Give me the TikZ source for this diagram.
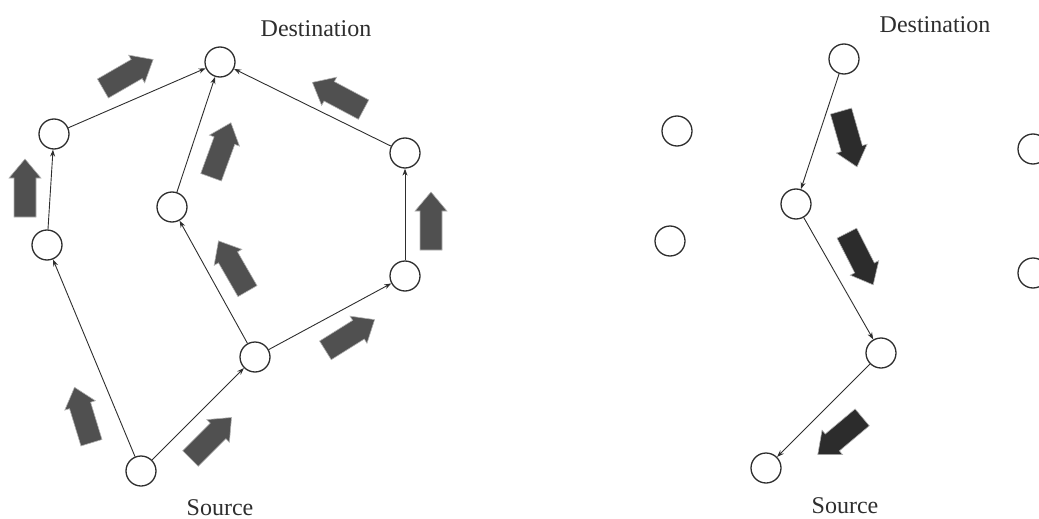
\documentclass[tikz,border=0pt]{standalone}
\usepackage{fontspec}
\setmainfont{Liberation Serif}
\usetikzlibrary{arrows.meta}
\definecolor{flowfill}{HTML}{505050}
\definecolor{flowdark}{HTML}{2C2C2C}
\definecolor{ink}{HTML}{2E2E2E}
\tikzset{
  vertex/.style={circle,draw=ink,line width=1.3pt,minimum size=30pt,inner sep=0pt,fill=white},
  link/.style={draw=ink,line width=0.9pt,-{Stealth[length=7pt,width=5pt]}},
  caption/.style={font=\fontsize{24pt}{28pt}\selectfont,inner sep=0pt,anchor=base,text=ink},
  % broad flow arrow, pointing along its local x axis
  pics/flowarrow/.style={code={
    \path[draw=gray!60,line width=0.6pt,fill=#1]
      (-29,-11) -- (10,-11) -- (10,-16) -- (29,0) -- (10,16) -- (10,11) -- (-29,11) -- cycle;
  }},
  pics/flowarrow/.default=flowfill
}
\begin{document}
\begin{tikzpicture}[x=1pt,y=-1pt]
\useasboundingbox (0,0) rectangle (1039,519);

% ---- left network: every route leads to the destination ----
\node[caption] (dstL) at (316,37) {Destination};
\node[caption] (srcL) at (220,515) {Source};

\node[vertex] (D)  at (220,62)  {};
\node[vertex] (A1) at (54,134)  {};
\node[vertex] (A2) at (47,245)  {};
\node[vertex] (B)  at (172,207) {};
\node[vertex] (C1) at (405,153) {};
\node[vertex] (C2) at (405,276) {};
\node[vertex] (M)  at (255,357) {};
\node[vertex] (S)  at (141,471) {};

\draw[link] (S)  -- (A2);
\draw[link] (S)  -- (M);
\draw[link] (M)  -- (B);
\draw[link] (M)  -- (C2);
\draw[link] (A2) -- (A1);
\draw[link] (A1) -- (D);
\draw[link] (B)  -- (D);
\draw[link] (C2) -- (C1);
\draw[link] (C1) -- (D);

\pic[rotate=90]  at (25,188)  {flowarrow};
\pic[rotate=30]  at (128,74)  {flowarrow};
\pic[rotate=70]  at (221,150) {flowarrow};
\pic[rotate=152] at (338,96)  {flowarrow};
\pic[rotate=90]  at (431,221) {flowarrow};
\pic[rotate=120] at (233,266) {flowarrow};
\pic[rotate=32]  at (350,335) {flowarrow};
\pic[rotate=107] at (83,415)  {flowarrow};
\pic[rotate=45]  at (211,438) {flowarrow};

% ---- right network: a single route back to the source ----
\node[caption] (dstR) at (935,33)  {Destination};
\node[caption] (srcR) at (845,513) {Source};

\node[vertex] (Dr) at (844,59)  {};
\node[vertex] (L1) at (677,131) {};
\node[vertex] (L2) at (670,241) {};
\node[vertex] (P1) at (796,204) {};
\node[vertex] (R1) at (1033,149) {};
\node[vertex] (R2) at (1033,273) {};
\node[vertex] (P2) at (881,353) {};
\node[vertex] (Sr) at (766,468) {};

\draw[link] (Dr) -- (P1);
\draw[link] (P1) -- (P2);
\draw[link] (P2) -- (Sr);

\pic[rotate=-74]  at (849,139) {flowarrow=flowdark};
\pic[rotate=-63]  at (860,259) {flowarrow=flowdark};
\pic[rotate=-140] at (840,436) {flowarrow=flowdark};
\end{tikzpicture}
\end{document}
